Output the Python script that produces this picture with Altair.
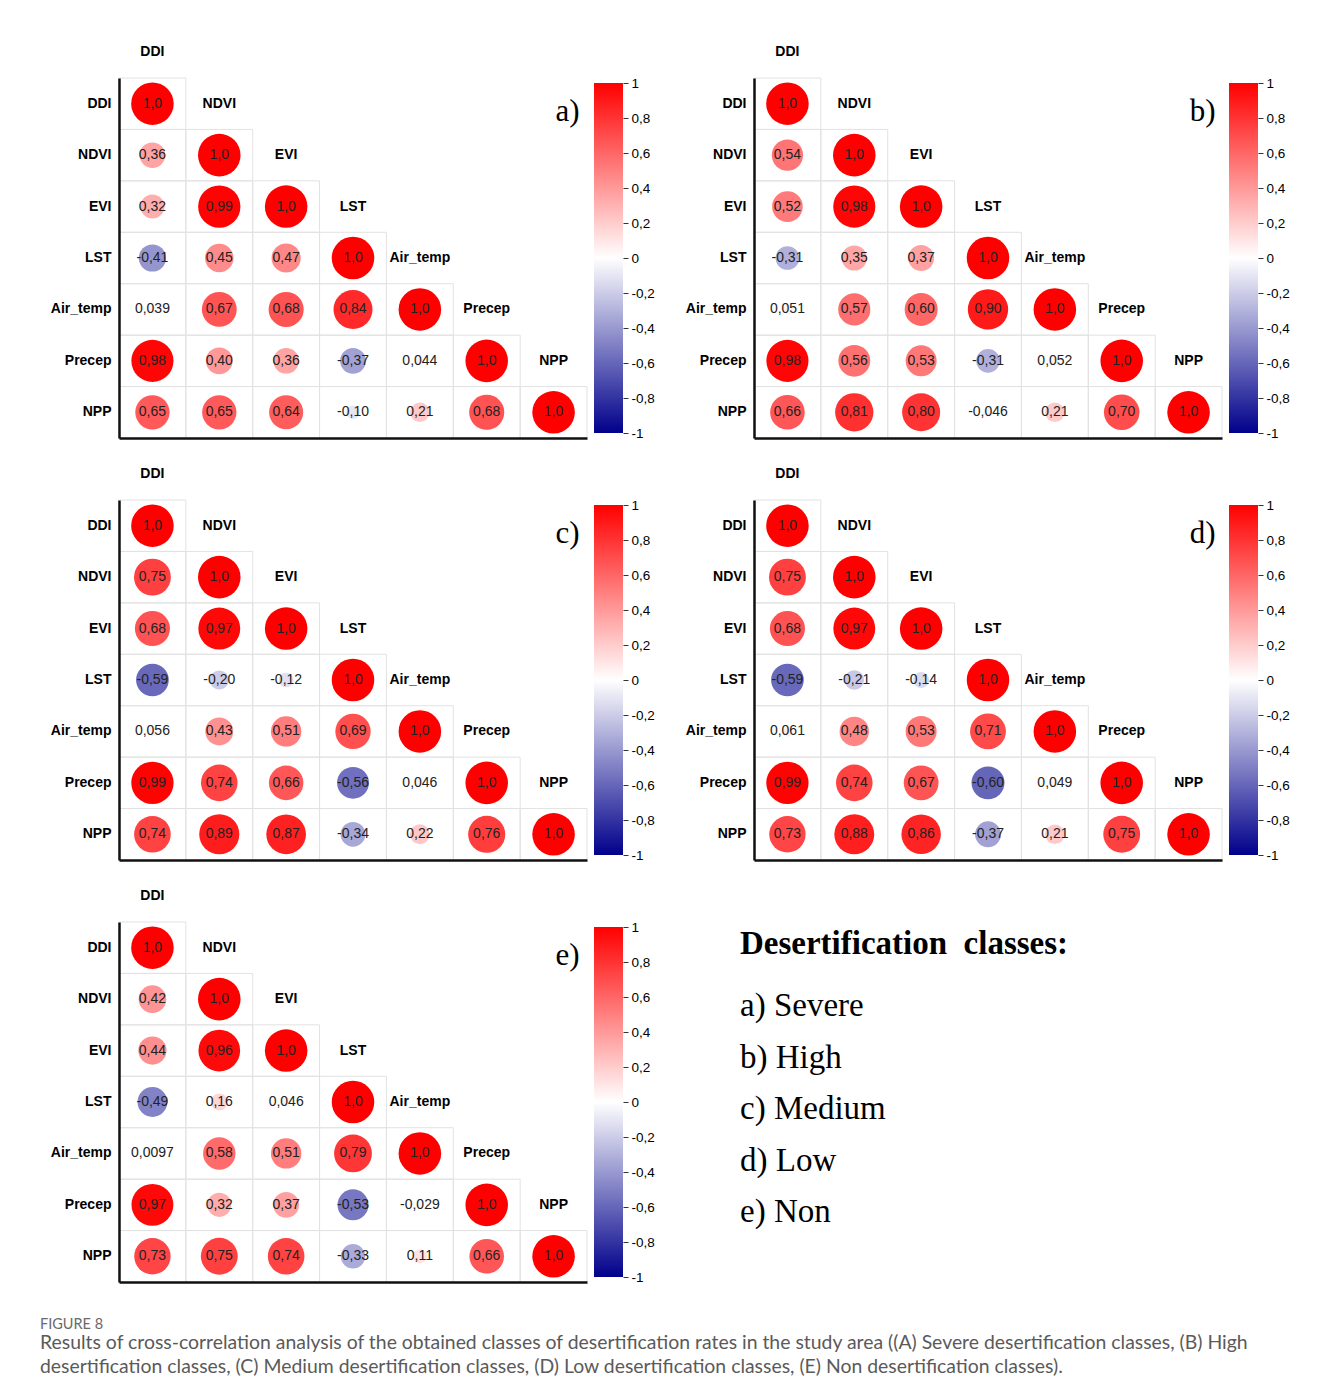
import altair as alt
import pandas as pd

# ---------------- data ----------------
VARS = ["DDI", "NDVI", "EVI", "LST", "Air_temp", "Precep", "NPP"]

A_ROWS = [
    [1.0],
    [0.36, 1.0],
    [0.32, 0.99, 1.0],
    [-0.41, 0.45, 0.47, 1.0],
    [0.039, 0.67, 0.68, 0.84, 1.0],
    [0.98, 0.40, 0.36, -0.37, 0.044, 1.0],
    [0.65, 0.65, 0.64, -0.10, 0.21, 0.68, 1.0],
]
B_ROWS = [
    [1.0],
    [0.54, 1.0],
    [0.52, 0.98, 1.0],
    [-0.31, 0.35, 0.37, 1.0],
    [0.051, 0.57, 0.60, 0.90, 1.0],
    [0.98, 0.56, 0.53, -0.31, 0.052, 1.0],
    [0.66, 0.81, 0.80, -0.046, 0.21, 0.70, 1.0],
]
C_ROWS = [
    [1.0],
    [0.75, 1.0],
    [0.68, 0.97, 1.0],
    [-0.59, -0.20, -0.12, 1.0],
    [0.056, 0.43, 0.51, 0.69, 1.0],
    [0.99, 0.74, 0.66, -0.56, 0.046, 1.0],
    [0.74, 0.89, 0.87, -0.34, 0.22, 0.76, 1.0],
]
D_ROWS = [
    [1.0],
    [0.75, 1.0],
    [0.68, 0.97, 1.0],
    [-0.59, -0.21, -0.14, 1.0],
    [0.061, 0.48, 0.53, 0.71, 1.0],
    [0.99, 0.74, 0.67, -0.60, 0.049, 1.0],
    [0.73, 0.88, 0.86, -0.37, 0.21, 0.75, 1.0],
]
E_ROWS = [
    [1.0],
    [0.42, 1.0],
    [0.44, 0.96, 1.0],
    [-0.49, 0.16, 0.046, 1.0],
    [0.0097, 0.58, 0.51, 0.79, 1.0],
    [0.97, 0.32, 0.37, -0.53, -0.029, 1.0],
    [0.73, 0.75, 0.74, -0.33, 0.11, 0.66, 1.0],
]

PANEL_LETTERS = ["a)", "b)", "c)", "d)", "e)"]
COLORBAR_TICKS = [1, 0.8, 0.6, 0.4, 0.2, 0, -0.2, -0.4, -0.6, -0.8, -1]
COLOR_DOMAIN = [-1, 0, 1]
COLOR_RANGE = ["#00008B", "#FFFFFF", "#FF0000"]

CLASS_TITLE = "Desertification\u00a0 classes:"
CLASSES = ["a) Severe", "b) High", "c) Medium", "d) Low", "e) Non"]

CAPTION_LABEL = "FIGURE 8"
CAPTION_LINES = [
    "Results of cross-correlation analysis of the obtained classes of desertification rates in the study area ((A) Severe desertification classes, (B) High",
    "desertification classes, (C) Medium desertification classes, (D) Low desertification classes, (E) Non desertification classes).",
]

# ---------------- styling ----------------
PW, PH = 468, 360
CELL_H = PH / len(VARS)
SANS = "Liberation Sans"
SERIF = "Liberation Serif"
MAX_AREA = 1810


def fmt(v):
    return f"{v:#.2g}".replace(".", ",")


def panel(rows, letter):
    recs = []
    for i, row in enumerate(rows):
        for j, v in enumerate(row):
            recs.append({"row": VARS[i], "col": VARS[j], "r": v, "absr": abs(v), "lab": fmt(v)})
    df = pd.DataFrame(recs)
    hdr = pd.DataFrame({"row": VARS, "col": VARS, "name": VARS})
    let = pd.DataFrame({"row": [VARS[0]], "col": [VARS[-1]], "lab": [letter]})

    xs = alt.X("col:N", scale=alt.Scale(type="band", domain=VARS, paddingInner=0, paddingOuter=0),
               axis=alt.Axis(labels=False, ticks=False, title=None, grid=False,
                             domainColor="#111111", domainWidth=2.5, zindex=1))
    ys = alt.Y("row:N", scale=alt.Scale(type="band", domain=VARS, paddingInner=0, paddingOuter=0),
               axis=alt.Axis(ticks=False, title=None, grid=False, labelFont=SANS, labelFontSize=14,
                             labelFontWeight="bold", labelColor="#000000", labelPadding=8,
                             domainColor="#111111", domainWidth=2.5, zindex=1))

    grid = alt.Chart(df).mark_rect(filled=False, color="#e2e2e2", strokeWidth=1).encode(x=xs, y=ys)
    circ = alt.Chart(df).mark_circle(opacity=1).encode(
        x=xs, y=ys,
        size=alt.Size("absr:Q", scale=alt.Scale(domain=[0, 1], range=[0, MAX_AREA]), legend=None),
        color=alt.Color("r:Q", scale=alt.Scale(domain=COLOR_DOMAIN, range=COLOR_RANGE, interpolate="rgb"),
                        legend=None),
    )
    txt = alt.Chart(df).mark_text(font=SANS, fontSize=14, color="#222222").encode(x=xs, y=ys, text="lab:N")
    head = alt.Chart(hdr).mark_text(font=SANS, fontSize=14, fontWeight="bold", color="#000000",
                                    dy=-CELL_H).encode(x=xs, y=ys, text="name:N")
    lett = alt.Chart(let).mark_text(font=SERIF, fontSize=31, color="#000000", dx=14, dy=8).encode(
        x=xs, y=ys, text="lab:N")
    return alt.layer(grid, circ, txt, head, lett).properties(width=PW, height=PH)


def colorbar():
    cdf = pd.DataFrame({"lo": [COLOR_DOMAIN[0]], "hi": [COLOR_DOMAIN[-1]]})
    grad = alt.LinearGradient(
        gradient="linear",
        stops=[alt.GradientStop(offset=0, color=COLOR_RANGE[0]),
               alt.GradientStop(offset=0.5, color=COLOR_RANGE[1]),
               alt.GradientStop(offset=1, color=COLOR_RANGE[2])],
        x1=0, x2=0, y1=1, y2=0,
    )
    return alt.Chart(cdf).mark_rect(color=grad).encode(
        y=alt.Y("lo:Q", scale=alt.Scale(domain=[COLOR_DOMAIN[0], COLOR_DOMAIN[-1]], nice=False, padding=5),
                axis=alt.Axis(orient="right", values=COLORBAR_TICKS, title=None, grid=False,
                              domain=False, tickColor="#333333", tickSize=5,
                              labelFont=SANS, labelFontSize=13.5, labelColor="#000000", labelPadding=3,
                              labelExpr="(datum.value < 0 ? '-' : '') + replace(format(abs(datum.value), '.1~f'), '.', ',')")),
        y2="hi:Q",
    ).properties(width=29, height=PH)


def unit(rows, letter):
    return alt.hconcat(panel(rows, letter), colorbar(), spacing=6)


STEP = 51.5
PAD_TOP = 6.75
leg_df = pd.DataFrame({"item": [CLASS_TITLE] + CLASSES, "kind": ["title"] + ["item"] * len(CLASSES)})
ly = alt.Y("item:N", scale=alt.Scale(type="band", domain=[CLASS_TITLE] + CLASSES, paddingInner=0,
                                     paddingOuter=PAD_TOP / STEP), axis=None)
leg_title = alt.Chart(leg_df).transform_filter(alt.datum.kind == "title").mark_text(
    align="left", font=SERIF, fontSize=33, fontWeight="bold", color="#000000", dy=-10.5
).encode(x=alt.value(0), y=ly, text="item:N")
leg_items = alt.Chart(leg_df).transform_filter(alt.datum.kind == "item").mark_text(
    align="left", font=SERIF, fontSize=33, color="#000000"
).encode(x=alt.value(0), y=ly, text="item:N")
legend_chart = alt.layer(leg_title, leg_items).properties(width=400, height=STEP * 6 + 2 * PAD_TOP)

row1 = alt.hconcat(unit(A_ROWS, PANEL_LETTERS[0]), unit(B_ROWS, PANEL_LETTERS[1]), spacing=30)
row2 = alt.hconcat(unit(C_ROWS, PANEL_LETTERS[2]), unit(D_ROWS, PANEL_LETTERS[3]), spacing=30)
row3 = alt.hconcat(unit(E_ROWS, PANEL_LETTERS[4]), legend_chart, spacing=85)

chart = alt.vconcat(row1, row2, row3, spacing=27).properties(
    padding={"left": 32, "top": 37, "right": 10, "bottom": 10},
    title=alt.TitleParams(
        text=CAPTION_LABEL, subtitle=CAPTION_LINES, orient="bottom", anchor="start", frame="group",
        dx=-79, offset=34, font="Lato", fontSize=14.5, fontWeight="normal", color="#6a6a6a",
        subtitleFont="Lato", subtitleFontSize=19.4, subtitleColor="#5a5a5a", subtitleLineHeight=24,
        subtitlePadding=2,
    ),
).configure_view(strokeWidth=0)

chart.save("out.html", embed_options={"renderer": "svg", "actions": False})
